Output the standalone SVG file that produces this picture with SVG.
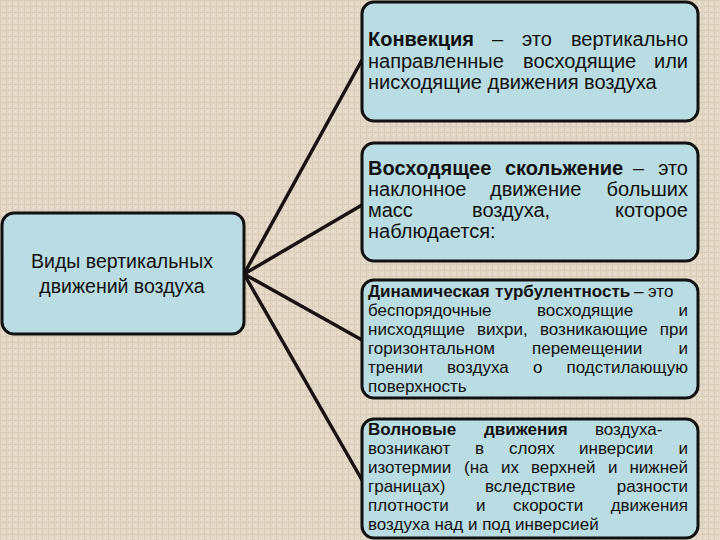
<svg xmlns="http://www.w3.org/2000/svg" width="720" height="540" viewBox="0 0 720 540">
<defs>
<pattern id="tex" width="6" height="6" patternUnits="userSpaceOnUse">
<rect width="6" height="6" fill="#e4d9c8"/>
<rect x="0" y="0" width="6" height="1" fill="#d3c7b3" opacity="0.6"/>
<rect x="0" y="0" width="1" height="6" fill="#d3c7b3" opacity="0.6"/>
<rect x="3" y="3" width="1" height="1" fill="#f2ebde"/>
</pattern>
</defs>
<style>
.box{fill:#b9dde2;stroke:#111;stroke-width:3}
.t{font-family:"Liberation Sans",Arial,sans-serif;fill:#111}
.a{font-size:20px}
.s{font-size:17px}
.b{font-weight:bold}
.r{text-anchor:end}
.c{text-anchor:middle;font-size:19.5px}
.ln{stroke:#1a1212;stroke-width:3.5;fill:none;stroke-linecap:round}
</style>
<rect width="720" height="540" fill="url(#tex)"/>

<g id="connectors">
<line class="ln" x1="244" y1="274" x2="362" y2="60"/>
<line class="ln" x1="244" y1="274" x2="362" y2="205"/>
<line class="ln" x1="244" y1="274" x2="362" y2="340"/>
<line class="ln" x1="244" y1="274" x2="362" y2="480"/>
</g>

<g id="root">
<rect class="box" x="2" y="213" width="242" height="121" rx="12"/>
<text class="t c" x="122" y="268">Виды вертикальных</text>
<text class="t c" x="122" y="293">движений воздуха</text>
</g>

<g id="convection">
<rect class="box" x="362" y="2" width="336" height="119" rx="12"/>
<text class="t a b" x="368" y="46">Конвекция</text>
<text class="t a" x="492" y="46">–</text>
<text class="t a" x="522" y="46">это</text>
<text class="t a r" x="688" y="46">вертикально</text>
<text class="t a" x="368" y="68">направленные</text>
<text class="t a" x="523" y="68">восходящие</text>
<text class="t a r" x="688" y="68">или</text>
<text class="t a" x="368" y="89">нисходящие движения воздуха</text>
</g>

<g id="upglide">
<rect class="box" x="362" y="143" width="336" height="118" rx="12"/>
<text class="t a b" x="368" y="175">Восходящее</text>
<text class="t a b" x="505" y="175">скольжение</text>
<text class="t a" x="633" y="175">–</text>
<text class="t a r" x="688" y="175">это</text>
<text class="t a" x="368" y="196">наклонное</text>
<text class="t a" x="490" y="196">движение</text>
<text class="t a r" x="688" y="196">больших</text>
<text class="t a" x="368" y="217">масс</text>
<text class="t a" x="472" y="217">воздуха,</text>
<text class="t a r" x="688" y="217">которое</text>
<text class="t a" x="368" y="238">наблюдается:</text>
</g>

<g id="turbulence">
<rect class="box" x="362" y="280" width="336" height="118" rx="12"/>
<text class="t s b" x="368" y="297">Динамическая</text>
<text class="t s b" x="495" y="297">турбулентность</text>
<text class="t s" x="634" y="297">–</text>
<text class="t s" x="648" y="297">это</text>
<text class="t s" x="368" y="316">беспорядочные</text>
<text class="t s" x="537" y="316">восходящие</text>
<text class="t s r" x="688" y="316">и</text>
<text class="t s" x="368" y="335">нисходящие</text>
<text class="t s" x="477" y="335">вихри,</text>
<text class="t s" x="540" y="335">возникающие</text>
<text class="t s r" x="688" y="335">при</text>
<text class="t s" x="368" y="354">горизонтальном</text>
<text class="t s" x="532" y="354">перемещении</text>
<text class="t s r" x="688" y="354">и</text>
<text class="t s" x="368" y="373">трении</text>
<text class="t s" x="447" y="373">воздуха</text>
<text class="t s" x="533" y="373">о</text>
<text class="t s r" x="688" y="373">подстилающую</text>
<text class="t s" x="368" y="392">поверхность</text>
</g>

<g id="waves">
<rect class="box" x="362" y="419" width="336" height="119" rx="12"/>
<text class="t s b" x="368" y="435">Волновые</text>
<text class="t s b" x="484" y="435">движения</text>
<text class="t s" x="595" y="435">воздуха-</text>
<text class="t s" x="368" y="454">возникают</text>
<text class="t s" x="475" y="454">в</text>
<text class="t s" x="509" y="454">слоях</text>
<text class="t s" x="579" y="454">инверсии</text>
<text class="t s r" x="688" y="454">и</text>
<text class="t s" x="368" y="473">изотермии</text>
<text class="t s" x="464" y="473">(на</text>
<text class="t s" x="501" y="473">их</text>
<text class="t s" x="531" y="473">верхней</text>
<text class="t s" x="608" y="473">и</text>
<text class="t s r" x="688" y="473">нижней</text>
<text class="t s" x="368" y="492">границах)</text>
<text class="t s" x="485" y="492">вследствие</text>
<text class="t s r" x="688" y="492">разности</text>
<text class="t s" x="368" y="511">плотности</text>
<text class="t s" x="476" y="511">и</text>
<text class="t s" x="513" y="511">скорости</text>
<text class="t s r" x="688" y="511">движения</text>
<text class="t s" x="368" y="530">воздуха над и под инверсией</text>
</g>
</svg>
